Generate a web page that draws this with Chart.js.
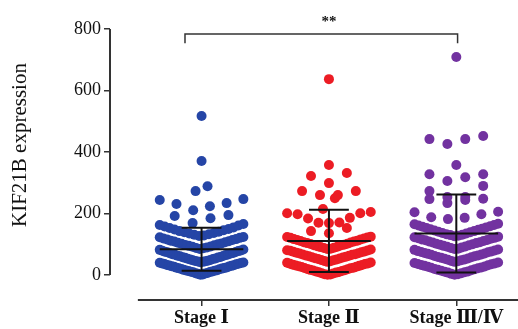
<!DOCTYPE html>
<html>
<head>
<meta charset="utf-8">
<script src="https://cdn.jsdelivr.net/npm/chart.js@4.4.1/dist/chart.umd.min.js"></script>
<style>
  html, body { margin: 0; padding: 0; background: #fff; }
</style>
</head>
<body>
<canvas id="myChart" width="518" height="329"></canvas>
<script>
// 1. DATA
const groups = ['Stage Ⅰ', 'Stage Ⅱ', 'Stage Ⅲ/Ⅳ'];
const yTicks = [0, 200, 400, 600, 800];
const yTitle = 'KIF21B expression';

const stage1 = [517, 371, 289, 273, 247, 244, 234, 231, 224, 211, 195, 192, 185, 169,
  166, 163, 161, 158, 155, 153, 150, 148, 146, 143, 141, 139, 137, 135, 133, 131, 129, 127,
  124, 123, 121, 119, 117, 116, 114, 112, 110, 109, 107, 105, 103, 102, 100, 98, 97, 95, 93, 92, 90, 88, 87, 85,
  83, 82, 80, 79, 78, 76, 75, 74, 72, 71, 70, 68, 67, 66, 65, 63, 62, 61, 59, 58, 57, 56, 54, 53, 52, 51, 49, 48, 47, 46, 45, 44, 43, 42,
  41, 40, 39, 38, 37, 36, 35, 33, 32, 31, 30, 29, 28, 27, 25, 24, 23, 22, 21, 20, 19, 17, 16, 15, 14, 13, 12, 11, 10, 9, 7, 6, 5, 4, 2, 1];

const stage2 = [637, 358, 332, 322, 299, 273, 273, 260, 260, 250, 215, 205, 201, 201, 198, 186, 184, 171, 170, 169, 153, 143, 136,
  125, 124, 122, 121, 119, 117, 116, 114, 112, 111, 109, 107, 106, 104, 102, 101, 99, 97, 96, 94, 92, 91, 89, 88, 86, 85,
  83, 81, 80, 79, 77, 76, 74, 73, 71, 70, 68, 67, 66, 64, 63, 61, 60, 58, 57, 55, 54, 52, 51, 49, 48, 46, 45, 43,
  41, 40, 38, 37, 36, 34, 33, 31, 30, 29, 27, 26, 24, 23, 22, 20, 19, 17, 16, 15, 13, 12, 10, 9, 8, 6, 5, 3, 2, 1];

const stage3 = [709, 452, 442, 442, 426, 358, 328, 328, 318, 306, 290, 273, 254, 254, 248, 247, 244, 234, 206, 204, 198, 188, 186, 182,
  167, 165, 163, 161, 159, 157, 155, 153, 151, 149, 147, 145, 143, 141, 139, 137, 135, 133, 131, 130, 128, 126,
  125, 123, 121, 120, 118, 116, 114, 113, 111, 109, 107, 106, 104, 102, 100, 99, 97, 95, 93, 92, 90, 88, 86, 85,
  83, 82, 80, 78, 77, 75, 74, 72, 70, 69, 67, 66, 64, 62, 61, 59, 58, 56, 54, 53, 51, 50, 48, 46, 45, 43,
  41, 39, 38, 36, 35, 33, 32, 30, 28, 27, 25, 24, 22, 20, 19, 17, 16, 14, 12, 11, 9, 8, 6, 4, 3, 1];

// mean and SD bars
const means = [84, 111, 135];
const sds = [70, 101, 127];

// 2. LAYOUT HELPERS
const SERIF = '"Liberation Serif", "DejaVu Serif", serif';
const colors = ['#2545a6', '#ec1c24', '#7232a0'];
const PX = 128;      // pixels per category on the x scale
const HALF = 42;     // half width of a swarm row, px
const BIN = 42;      // value bin for one swarm row
const X_MIN = -0.71875, X_MAX = 2.445;

// Prism-like scatter: bin values in rows, lowest in the middle, higher ones outward
function swarm(values, center) {
  const bins = {};
  values.forEach(v => {
    const b = Math.floor(v / BIN);
    (bins[b] = bins[b] || []).push(v);
  });
  const pts = [];
  Object.values(bins).forEach(list => {
    list.sort((a, b) => a - b);
    const n = list.length;
    const step = n <= 2 ? 12 : Math.min(18, 2 * HALF / (n - 1));
    list.forEach((v, i) => {
      let off;
      if (n % 2 === 1) {
        off = (i % 2 ? -1 : 1) * Math.ceil(i / 2) * step;
      } else {
        off = (i % 2 ? 1 : -1) * (Math.floor(i / 2) + 0.5) * step;
      }
      pts.push({ x: center + off / PX, y: v });
    });
  });
  return pts;
}

function errorBars() {
  const pts = [];
  const gap = { x: null, y: null };
  const w = HALF / PX, c = 20 / PX;
  means.forEach((m, i) => {
    const lo = m - sds[i], hi = m + sds[i];
    pts.push({ x: i - w, y: m }, { x: i + w, y: m }, gap);
    pts.push({ x: i, y: lo }, { x: i, y: hi }, gap);
    pts.push({ x: i - c, y: hi }, { x: i + c, y: hi }, gap);
    pts.push({ x: i - c, y: lo }, { x: i + c, y: lo }, gap);
  });
  return pts;
}

// 3. AXIS LINES, Y TITLE, STARS
const axisLines = {
  id: 'axisLines',
  beforeDatasetsDraw(chart) {
    const { ctx, chartArea, scales: { x, y } } = chart;
    const y0 = y.getPixelForValue(yTicks[0]);
    const y1 = y.getPixelForValue(yTicks[yTicks.length - 1]);
    ctx.save();
    ctx.strokeStyle = '#333';
    ctx.lineWidth = 2;
    ctx.beginPath();
    ctx.moveTo(chartArea.left, y0);
    ctx.lineTo(chartArea.left, y1);
    ctx.moveTo(x.getPixelForValue(-0.5), chartArea.bottom);
    ctx.lineTo(chart.width, chartArea.bottom);
    ctx.stroke();

    ctx.fillStyle = '#111';
    ctx.font = 'bold 15px ' + SERIF;
    ctx.textAlign = 'center';
    ctx.textBaseline = 'alphabetic';
    ctx.fillText('**', x.getPixelForValue(1), y.getPixelForValue(784) - 8);

    // y title, centred on the 0..800 span
    ctx.translate(20, (y0 + y1) / 2 - 7);
    ctx.rotate(-Math.PI / 2);
    ctx.font = '21px ' + SERIF;
    ctx.textBaseline = 'middle';
    ctx.fillText(yTitle, 0, 0);
    ctx.restore();
  }
};

// 4. CHART
const datasets = [
  {
    type: 'scatter', data: errorBars(), showLine: true, spanGaps: false,
    borderColor: '#111', borderWidth: 2, pointRadius: 0, order: 0
  },
  {
    type: 'scatter', data: [{ x: -0.13, y: 754 }, { x: -0.13, y: 784 }, { x: 2.01, y: 784 }, { x: 2.01, y: 754 }],
    showLine: true, borderColor: '#333', borderWidth: 1.5, pointRadius: 0, order: 0
  }
];
[stage1, stage2, stage3].forEach((vals, i) => {
  datasets.push({
    type: 'scatter', data: swarm(vals, i),
    backgroundColor: colors[i], pointBackgroundColor: colors[i],
    pointBorderWidth: 0, borderWidth: 0, pointRadius: 5, order: 1
  });
});

const ctx = document.getElementById('myChart').getContext('2d');
const myChart = new Chart(ctx, {
  type: 'scatter',
  data: { datasets },
  options: {
    responsive: false,
    animation: false,
    layout: { padding: { top: 29, left: 0, right: 0, bottom: 0 } },
    plugins: { legend: { display: false }, tooltip: { enabled: false } },
    scales: {
      x: {
        type: 'linear', min: X_MIN, max: X_MAX,
        afterFit: s => { s.height = 29; },
        afterBuildTicks: s => { s.ticks = groups.map((g, i) => ({ value: i })); },
        grid: { drawOnChartArea: false, drawTicks: true, tickLength: 6, color: '#333', lineWidth: 1.5 },
        border: { display: false },
        ticks: {
          callback: v => groups[Math.round(v)],
          color: '#111', font: { family: SERIF, size: 18, weight: 'bold' },
          padding: 2, maxRotation: 0, autoSkip: false
        }
      },
      y: {
        min: -81, max: 800,
        afterFit: s => { s.width = 110; },
        afterBuildTicks: s => { s.ticks = yTicks.map(v => ({ value: v })); },
        grid: { drawOnChartArea: false, drawTicks: true, tickLength: 6, color: '#333', lineWidth: 1.5 },
        border: { display: false },
        ticks: { color: '#111', font: { family: SERIF, size: 18 }, padding: 3 }
      }
    }
  },
  plugins: [axisLines]
});
</script>
</body>
</html>
